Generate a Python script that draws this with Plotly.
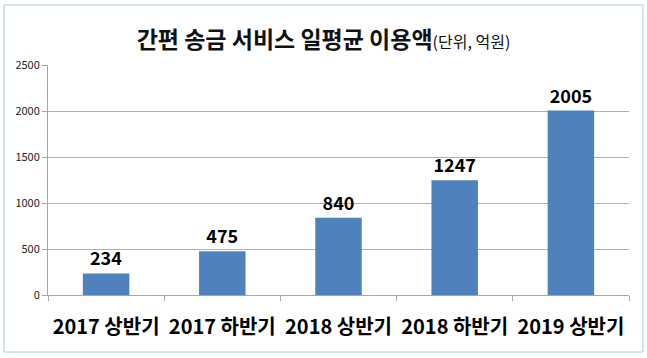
import plotly.graph_objects as go

categories = ["2017 상반기", "2017 하반기", "2018 상반기", "2018 하반기", "2019 상반기"]
values = [234, 475, 840, 1247, 2005]
y_ticks = [0, 500, 1000, 1500, 2000, 2500]

font = "Noto Sans CJK KR"

fig = go.Figure(go.Bar(
    x=categories, y=values,
    marker=dict(color="#4f81bd", line=dict(width=0)),
    text=[str(v) for v in values], textposition="outside",
    textfont=dict(family=font, size=18, color="#000000", weight="bold"),
    cliponaxis=False,
))

fig.update_layout(
    width=647, height=358,
    margin=dict(l=48, r=18, t=65, b=63),
    paper_bgcolor="white", plot_bgcolor="white",
    bargap=0.6,
    showlegend=False,
    title=dict(
        text="<b>간편 송금 서비스 일평균 이용액</b><span style='font-size:16px'>(단위, 억원)</span>",
        x=0.5, xanchor="center", y=0.888, yanchor="middle",
        font=dict(family=font, size=23, color="#111111"),
    ),
    xaxis=dict(
        showline=True, linecolor="#a6a6a6", linewidth=1,
        ticks="outside", tickson="boundaries", ticklen=5, tickcolor="#a6a6a6",
        tickfont=dict(family=font, size=20, color="#000000", weight="bold"),
        ticklabelstandoff=14,
        showgrid=False,
    ),
    yaxis=dict(
        range=[0, 2500], tickvals=y_ticks,
        showline=True, linecolor="#a6a6a6", linewidth=1,
        ticks="outside", ticklen=5, tickcolor="#a6a6a6",
        showgrid=True, gridcolor="#b0b0b0", gridwidth=1,
        tickfont=dict(family=font, size=11, color="#222222"),
        zeroline=False,
    ),
)

fig.add_shape(type="rect", xref="paper", yref="paper",
              x0=-0.0757, x1=1.024, y0=-0.248, y1=1.261,
              line=dict(color="#a9cce0", width=1), fillcolor="rgba(0,0,0,0)")

fig.write_html("out.html", config={"displayModeBar": False},
               post_script="document.body.style.margin='0';")
